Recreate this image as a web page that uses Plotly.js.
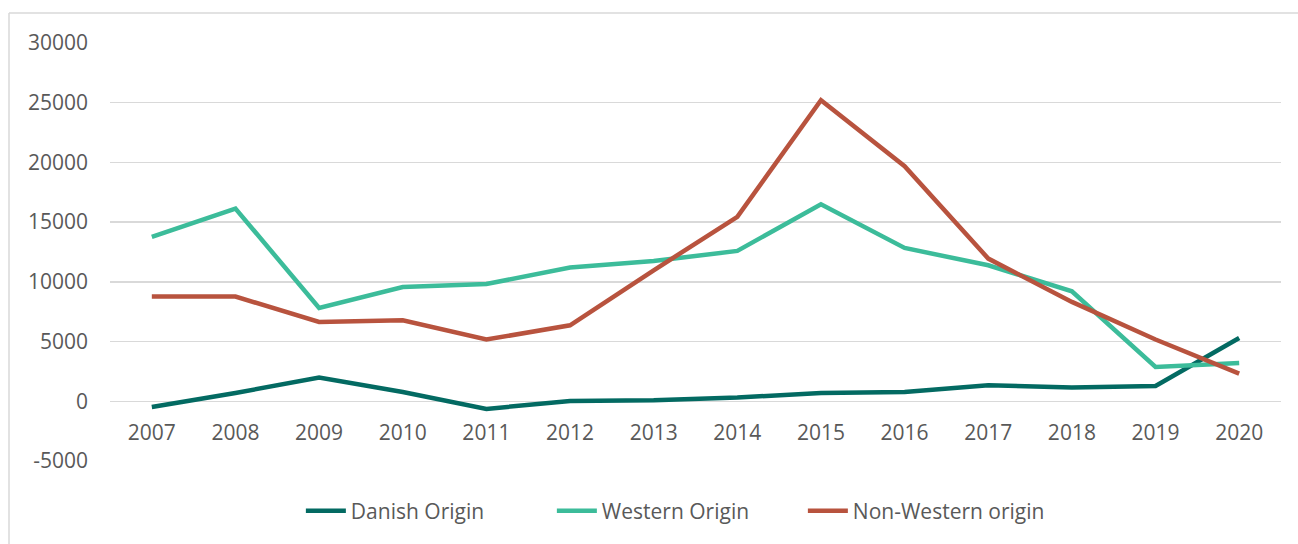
<!DOCTYPE html>
<html>
<head>
<meta charset="utf-8">
<script src="https://cdn.plot.ly/plotly-3.0.1.min.js"></script>
<style>
html,body{margin:0;padding:0;background:#fff;}
#chart{width:1298px;height:544px;}
</style>
</head>
<body>
<div id="chart"></div>
<script>
const years = ['2007','2008','2009','2010','2011','2012','2013','2014','2015','2016','2017','2018','2019','2020'];
const danishOrigin = [-480, 700, 1980, 780, -640, 30, 80, 310, 700, 780, 1340, 1150, 1280, 5300];
const westernOrigin = [13760, 16140, 7815, 9570, 9820, 11200, 11750, 12590, 16500, 12840, 11390, 9210, 2870, 3210];
const nonWesternOrigin = [8770, 8770, 6640, 6780, 5170, 6360, 10970, 15440, 25210, 19680, 11950, 8320, 5170, 2320];
const yTicks = [-5000, 0, 5000, 10000, 15000, 20000, 25000, 30000];

const font = 'Open Sans, Noto Sans, sans-serif';
const textColor = '#595959';

function series(name, y, color) {
  return {
    type: 'scatter', mode: 'lines', name: name, x: years, y: y,
    line: {color: color, width: 4.5, shape: 'linear'},
    hoverinfo: 'x+y+name'
  };
}

const data = [
  series('Danish Origin', danishOrigin, '#036A62'),
  series('Western Origin', westernOrigin, '#3CBC9A'),
  series('Non-Western origin', nonWesternOrigin, '#B8533E')
];

const W = 1298, H = 544, L = 110, R = 17, T = 43, B = 83;
const pw = W - L - R, ph = H - T - B;
const zeroFrac = (0 - (-5000)) / 35000;

const layout = {
  width: W, height: H,
  margin: {l: L, r: R, t: T, b: B, pad: 0},
  paper_bgcolor: '#ffffff', plot_bgcolor: '#ffffff',
  font: {family: font, size: 21, color: textColor},
  showlegend: true,
  legend: {
    orientation: 'h', x: 0.163, xanchor: 'left', y: -0.12, yanchor: 'middle',
    font: {family: font, size: 21, color: textColor},
    entrywidth: 196, entrywidthmode: 'pixels', itemwidth: 40,
    traceorder: 'normal', bgcolor: 'rgba(0,0,0,0)'
  },
  xaxis: {
    type: 'category', anchor: 'free', position: zeroFrac,
    showgrid: false, zeroline: false, showline: false,
    ticks: '', ticklabelstandoff: 17,
    tickfont: {family: font, size: 21, color: textColor},
    range: [-0.5, 13.5], fixedrange: true
  },
  yaxis: {
    range: [-5000, 30000], tickvals: yTicks, ticktext: yTicks.map(String),
    showgrid: true, gridcolor: '#D9D9D9', gridwidth: 1.3,
    zeroline: false, showline: false, ticks: '', ticklabelstandoff: 21,
    tickfont: {family: font, size: 21, color: textColor}, fixedrange: true
  },
  shapes: [
    {type: 'line', xref: 'paper', yref: 'paper', x0: (9 - L) / pw, x1: (W + 5 - L) / pw,
     y0: (H - B - 13) / ph, y1: (H - B - 13) / ph, line: {color: '#D9D9D9', width: 1.5}},
    {type: 'line', xref: 'paper', yref: 'paper', x0: (9 - L) / pw, x1: (9 - L) / pw,
     y0: (H - B - 13) / ph, y1: (H - B - (H + 5)) / ph, line: {color: '#D9D9D9', width: 1.5}}
  ]
};

Plotly.newPlot('chart', data, layout, {displayModeBar: false, staticPlot: true});
</script>
</body>
</html>
